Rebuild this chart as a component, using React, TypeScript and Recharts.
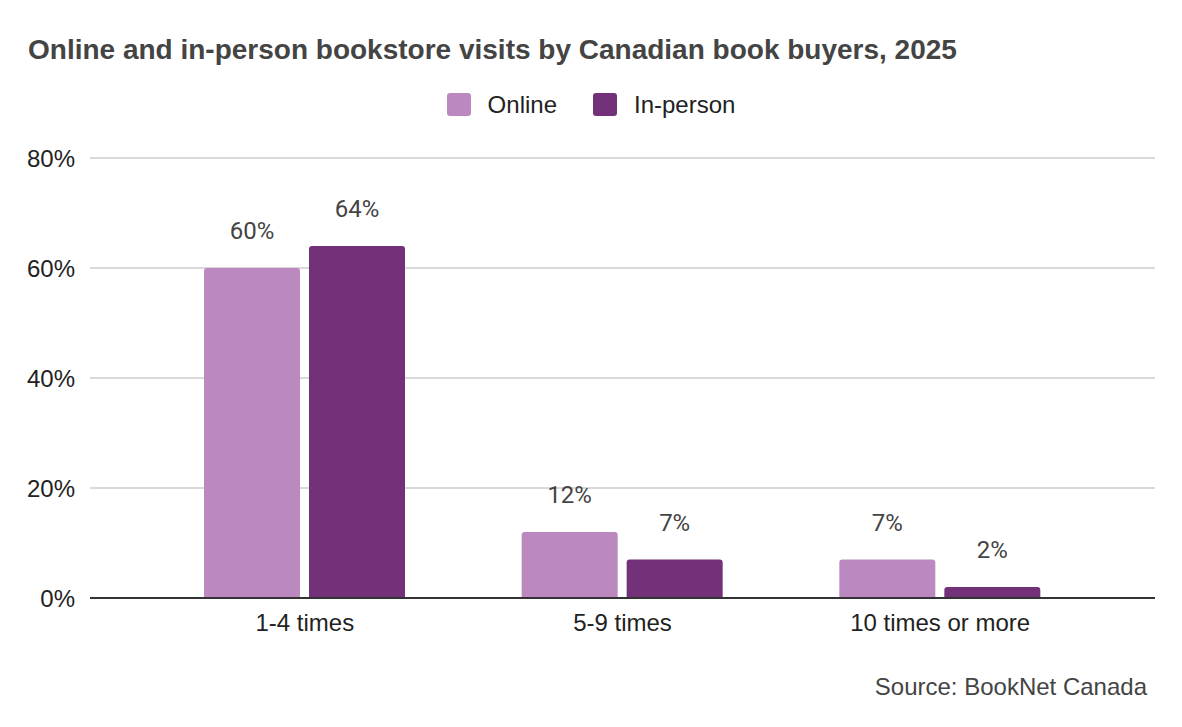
import React from 'react';
import {
  BarChart,
  Bar,
  XAxis,
  YAxis,
  CartesianGrid,
  LabelList
} from 'recharts';

const categories = ['1-4 times', '5-9 times', '10 times or more'];
const onlineValues = [60, 12, 7];
const inPersonValues = [64, 7, 2];
const yTicks = [0, 20, 40, 60, 80];
const seriesNames = ['Online', 'In-person'];

const colors = {
  online: '#bb89c0',
  inPerson: '#723178',
  grid: '#cccccc',
  axis: '#333333',
  title: '#444444',
  text: '#222222',
  label: '#444444',
};

const sans = '"Liberation Sans", Arial, sans-serif';

const data = categories.map((c, i) => ({
  category: c,
  online: onlineValues[i],
  inPerson: inPersonValues[i],
}));

export default function App() {
  const legendItems = [
    { name: seriesNames[0], color: colors.online },
    { name: seriesNames[1], color: colors.inPerson },
  ];

  return (
    <div style={{ position: 'absolute', left: 0, top: 0, width: 1182, height: 727, background: '#fff', fontFamily: sans }}>
      <div
        style={{
          position: 'absolute',
          left: 28,
          top: 36,
          fontSize: 28,
          lineHeight: '28px',
          fontWeight: 'bold',
          color: colors.title,
          whiteSpace: 'nowrap',
        }}
      >
        Online and in-person bookstore visits by Canadian book buyers, 2025
      </div>

      <div
        style={{
          position: 'absolute',
          left: 0,
          top: 93,
          width: 1182,
          display: 'flex',
          justifyContent: 'center',
          alignItems: 'center',
          fontSize: 24,
          color: colors.text,
        }}
      >
        {legendItems.map((item, i) => (
          <div key={item.name} style={{ display: 'flex', alignItems: 'center', marginLeft: i === 0 ? 0 : 36 }}>
            <span style={{ width: 24, height: 23, borderRadius: 3, background: item.color, display: 'inline-block' }} />
            <span style={{ marginLeft: 17, lineHeight: '23px' }}>{item.name}</span>
          </div>
        ))}
      </div>

      <BarChart
        width={1182}
        height={727}
        data={data}
        margin={{ top: 158, right: 27, bottom: 99, left: 0 }}
        barGap={9}
        barSize={96}
      >
        <CartesianGrid horizontal vertical={false} stroke={colors.grid} strokeWidth={1.5} />
        <XAxis
          dataKey="category"
          height={30}
          padding={{ left: 56, right: 56 }}
          tickLine={false}
          tickSize={0}
          tickMargin={16}
          axisLine={{ stroke: colors.axis, strokeWidth: 2 }}
          tick={{ fill: colors.text, fontSize: 24, fontFamily: sans }}
        />
        <YAxis
          width={90}
          domain={[0, 80]}
          ticks={yTicks}
          axisLine={false}
          tickLine={false}
          tickSize={0}
          tickMargin={15}
          tickFormatter={(v) => `${v}%`}
          tick={{ fill: colors.text, fontSize: 24, fontFamily: sans }}
        />
        <Bar dataKey="online" name={seriesNames[0]} fill={colors.online} radius={[3, 3, 0, 0]} isAnimationActive={false}>
          <LabelList
            dataKey="online"
            position="top"
            offset={29}
            formatter={(v) => `${v}%`}
            style={{ fill: colors.label, fontSize: 24, fontFamily: 'Roboto, sans-serif' }}
          />
        </Bar>
        <Bar dataKey="inPerson" name={seriesNames[1]} fill={colors.inPerson} radius={[3, 3, 0, 0]} isAnimationActive={false}>
          <LabelList
            dataKey="inPerson"
            position="top"
            offset={29}
            formatter={(v) => `${v}%`}
            style={{ fill: colors.label, fontSize: 24, fontFamily: 'Roboto, sans-serif' }}
          />
        </Bar>
      </BarChart>

      <div
        style={{
          position: 'absolute',
          right: 35,
          top: 675,
          fontSize: 24,
          lineHeight: '24px',
          color: colors.title,
          whiteSpace: 'nowrap',
        }}
      >
        Source: BookNet Canada
      </div>
    </div>
  );
}
